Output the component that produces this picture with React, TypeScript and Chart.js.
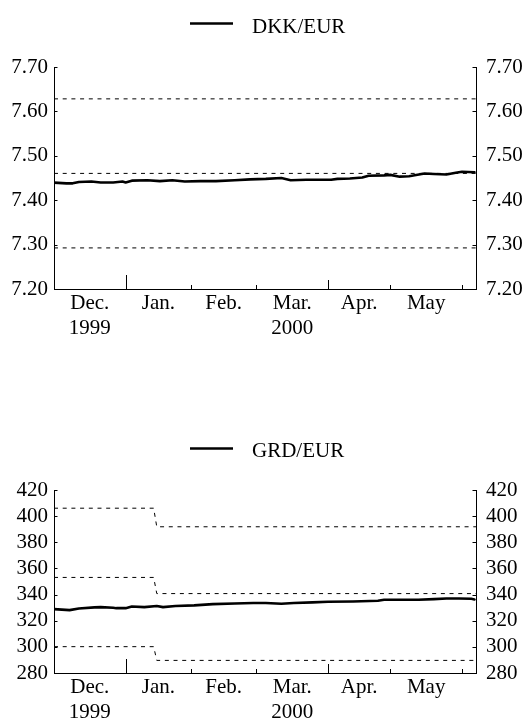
import React, { useEffect, useRef } from 'react';
import { Chart, registerables } from 'chart.js';

Chart.register(...registerables);

const FONT = "'Liberation Serif', 'Times New Roman', Times, serif";

// x axis: business-day index counted from 1 Dec 1999
const monthTickIdx = [23, 44, 65, 88, 108, 131];
const monthTickLen = [14, 4, 4, 9, 4, 4];
const monthLabelIdx = [11.5, 33.5, 54.5, 76.5, 98, 119.5];
const monthLabels = [['Dec.', '1999'], ['Jan.'], ['Feb.'], ['Mar.', '2000'], ['Apr.'], ['May']];
const X_MIN = 0;
const X_MAX = 135.5;

// DKK/EUR
const dkkIdx = [0, 4, 6, 8, 12, 15, 19, 22, 23, 25, 30, 34, 38, 42, 47, 52, 58, 63, 68, 73, 76, 81, 85, 89, 91, 95, 99, 101, 106, 108, 111, 114, 119, 122, 126, 129, 131, 135];
const dkkRate = [7.4395, 7.438, 7.438, 7.441, 7.442, 7.44, 7.44, 7.442, 7.44, 7.444, 7.445, 7.443, 7.445, 7.442, 7.443, 7.443, 7.445, 7.447, 7.448, 7.45, 7.445, 7.446, 7.446, 7.446, 7.448, 7.449, 7.451, 7.455, 7.456, 7.457, 7.453, 7.454, 7.46, 7.459, 7.458, 7.462, 7.464, 7.463];
const dkkTicks = [7.2, 7.3, 7.4, 7.5, 7.6, 7.7];
const dkkBandIdx = [0, 135.5];
const dkkUpper = [7.62824, 7.62824];
const dkkCentral = [7.46038, 7.46038];
const dkkLower = [7.29252, 7.29252];

// GRD/EUR
const grdIdx = [0, 5, 8, 13, 15, 19, 20, 23, 25, 29, 33, 35, 39, 45, 51, 58, 64, 68, 73, 77, 83, 88, 96, 104, 106, 117, 122, 126, 130, 134, 135];
const grdRate = [328.9, 328.1, 329.4, 330.2, 330.4, 329.9, 329.6, 329.6, 330.9, 330.4, 331.2, 330.4, 331.2, 331.7, 332.7, 333.2, 333.5, 333.5, 333.0, 333.5, 334.0, 334.5, 334.7, 335.3, 336.0, 336.0, 336.5, 337.0, 337.0, 336.8, 336.3];
const grdTicks = [280, 300, 320, 340, 360, 380, 400, 420];
const grdBandIdx = [0, 32, 33, 135.5];
const grdUpper = [406.075, 406.075, 391.863, 391.863];
const grdCentral = [353.109, 353.109, 340.75, 340.75];
const grdLower = [300.143, 300.143, 289.638, 289.638];

type PanelProps = {
  top: number;
  height: number;
  plotTop: number;
  xAxisHeight: number;
  legendLineY: number;
  legendTextY: number;
  label: string;
  idx: number[];
  rate: number[];
  ticks: number[];
  fmt: (v: number) => string;
  bandIdx: number[];
  bands: number[][];
};

const toPts = (xs: number[], ys: number[]) => xs.map((x, i) => ({ x, y: ys[i] }));

function Panel(p: PanelProps) {
  const ref = useRef<HTMLCanvasElement | null>(null);
  useEffect(() => {
    if (!ref.current) return;
    const yMin = p.ticks[0];
    const yMax = p.ticks[p.ticks.length - 1];
    const decor = {
      id: 'decor',
      afterDraw(chart: any) {
        const ctx = chart.ctx;
        const { left, right, bottom } = chart.chartArea;
        const line = (x1: number, y1: number, x2: number, y2: number) => {
          ctx.beginPath();
          ctx.moveTo(x1, y1);
          ctx.lineTo(x2, y2);
          ctx.stroke();
        };
        ctx.save();
        ctx.strokeStyle = '#000';
        ctx.lineWidth = 1;
        const ys = chart.scales.y;
        p.ticks.forEach((v) => {
          const py = Math.round(ys.getPixelForValue(v)) + 0.5;
          line(left, py, left + 3.5, py);
          line(right - 3.5, py, right, py);
        });
        const xs = chart.scales.x;
        monthTickIdx.forEach((v, i) => {
          const px = Math.round(xs.getPixelForValue(v)) + 0.5;
          line(px, bottom, px, bottom - monthTickLen[i]);
        });
        ctx.lineWidth = 2.5;
        line(190, p.legendLineY, 233, p.legendLineY);
        ctx.font = `21px ${FONT}`;
        ctx.fillStyle = '#000';
        ctx.textBaseline = 'alphabetic';
        ctx.textAlign = 'left';
        ctx.fillText(p.label, 252, p.legendTextY);
        ctx.restore();
      },
    };
    const bandDs = p.bands.map((b) => ({
      data: toPts(p.bandIdx, b),
      borderColor: '#000',
      borderWidth: 1,
      borderDash: [4, 4.7],
      pointRadius: 0,
      tension: 0,
      fill: false,
    }));
    const tickFont = { family: FONT, size: 21 };
    const chart = new Chart(ref.current, {
      type: 'line',
      data: {
        datasets: [
          {
            label: p.label,
            data: toPts(p.idx, p.rate),
            borderColor: '#000',
            borderWidth: 2.6,
            pointRadius: 0,
            tension: 0,
            fill: false,
            borderJoinStyle: 'round',
            borderCapStyle: 'round',
          } as any,
          ...bandDs,
        ],
      },
      options: {
        responsive: false,
        animation: false,
        devicePixelRatio: 1,
        layout: { padding: { top: p.plotTop, left: 0, right: 0, bottom: 0 } },
        plugins: { legend: { display: false }, tooltip: { enabled: false }, title: { display: false } },
        scales: {
          x: {
            type: 'linear',
            position: 'bottom',
            min: X_MIN,
            max: X_MAX,
            grid: { display: false, drawTicks: false },
            border: { display: true, color: '#000', width: 1 },
            afterBuildTicks: (s: any) => {
              s.ticks = monthLabelIdx.map((v) => ({ value: v }));
            },
            afterFit: (s: any) => {
              s.height = p.xAxisHeight;
            },
            ticks: {
              autoSkip: false,
              maxRotation: 0,
              minRotation: 0,
              padding: 2,
              color: '#000',
              font: tickFont,
              callback: (_v: any, i: number) => monthLabels[i],
            },
          },
          y: {
            type: 'linear',
            position: 'left',
            min: yMin,
            max: yMax,
            grid: { display: false, drawTicks: false },
            border: { display: true, color: '#000', width: 1 },
            afterBuildTicks: (s: any) => {
              s.ticks = p.ticks.map((v) => ({ value: v }));
            },
            afterFit: (s: any) => {
              s.width = 54;
            },
            ticks: { autoSkip: false, padding: 6, color: '#000', font: tickFont, callback: (v: any) => p.fmt(Number(v)) },
          },
          y2: {
            type: 'linear',
            position: 'right',
            min: yMin,
            max: yMax,
            grid: { display: false, drawTicks: false },
            border: { display: true, color: '#000', width: 1 },
            afterBuildTicks: (s: any) => {
              s.ticks = p.ticks.map((v) => ({ value: v }));
            },
            afterFit: (s: any) => {
              s.width = 47;
            },
            ticks: { autoSkip: false, padding: 10, color: '#000', font: tickFont, callback: (v: any) => p.fmt(Number(v)) },
          },
        },
      } as any,
      plugins: [decor],
    });
    return () => chart.destroy();
  }, []);
  return (
    <canvas
      ref={ref}
      width={523}
      height={p.height}
      style={{ position: 'absolute', left: 0, top: p.top, width: 523, height: p.height }}
    />
  );
}

export default function App() {
  return (
    <div style={{ position: 'absolute', left: 0, top: 0, width: 523, height: 718, background: '#fff', overflow: 'hidden' }}>
      <Panel
        top={0}
        height={345}
        plotTop={67}
        xAxisHeight={56}
        legendLineY={23.5}
        legendTextY={32.5}
        label="DKK/EUR"
        idx={dkkIdx}
        rate={dkkRate}
        ticks={dkkTicks}
        fmt={(v) => v.toFixed(2)}
        bandIdx={dkkBandIdx}
        bands={[dkkUpper, dkkCentral, dkkLower]}
      />
      <Panel
        top={359}
        height={359}
        plotTop={131}
        xAxisHeight={45}
        legendLineY={89.5}
        legendTextY={97.5}
        label="GRD/EUR"
        idx={grdIdx}
        rate={grdRate}
        ticks={grdTicks}
        fmt={(v) => String(Math.round(v))}
        bandIdx={grdBandIdx}
        bands={[grdUpper, grdCentral, grdLower]}
      />
    </div>
  );
}
